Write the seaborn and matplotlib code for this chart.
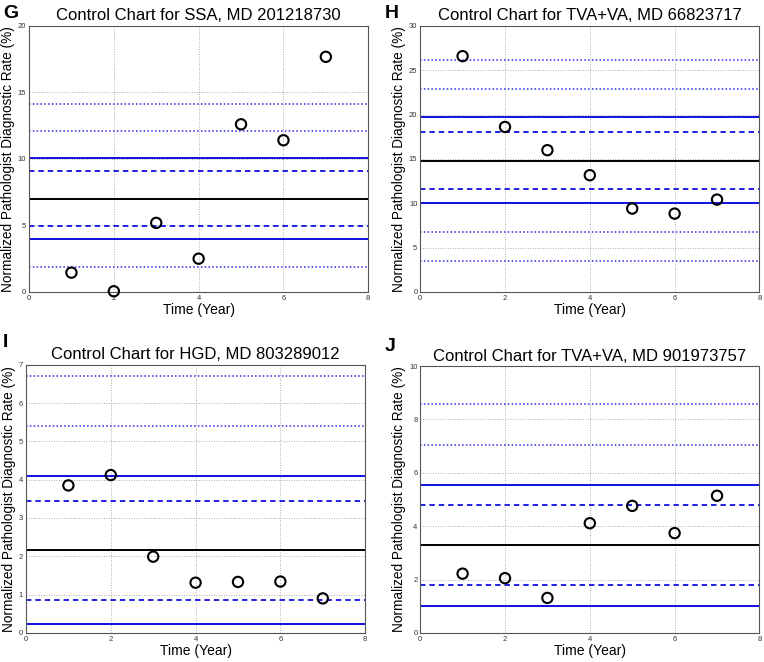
import numpy as np
import pandas as pd
import matplotlib
matplotlib.use("Agg")
import matplotlib.pyplot as plt
import seaborn as sns

sns.set_style("white")
plt.rcParams['font.family'] = ['Liberation Sans', 'DejaVu Sans']
plt.rcParams['text.color'] = 'black'
plt.rcParams['axes.labelcolor'] = 'black'

# data
years = [1, 2, 3, 4, 5, 6, 7]

g_rate = [1.45, 0.05, 5.19, 2.5, 12.6, 11.4, 17.67]
g_center = 7.0
g_solid = [10.07, 3.96]
g_dashed = [9.07, 4.96]
g_dotted = [14.16, 12.1, 1.88]

h_rate = [26.58, 18.6, 15.98, 13.16, 9.4, 8.83, 10.41]
h_center = 14.81
h_solid = [19.7, 10.0]
h_dashed = [18.08, 11.58]
h_dotted = [26.13, 22.9, 6.73, 3.5]

i_rate = [3.85, 4.12, 1.99, 1.31, 1.33, 1.34, 0.9]
i_center = 2.16
i_solid = [4.10, 0.22]
i_dashed = [3.45, 0.87]
i_dotted = [6.70, 5.40]

j_rate = [2.22, 2.05, 1.31, 4.11, 4.76, 3.74, 5.14]
j_center = 3.3
j_solid = [5.55, 1.02]
j_dashed = [4.8, 1.79]
j_dotted = [8.59, 7.06]

panels = [
    ("G", "Control Chart for SSA, MD 201218730", g_rate, g_center, g_solid, g_dashed, g_dotted, 20, 5),
    ("H", "Control Chart for TVA+VA, MD 66823717", h_rate, h_center, h_solid, h_dashed, h_dotted, 30, 5),
    ("I", "Control Chart for HGD, MD 803289012", i_rate, i_center, i_solid, i_dashed, i_dotted, 7, 1),
    ("J", "Control Chart for TVA+VA, MD 901973757", j_rate, j_center, j_solid, j_dashed, j_dotted, 10, 2),
]

# axes boxes in figure fractions, letter positions in figure fractions
boxes = [
    [0.038, 0.559, 0.444, 0.402],
    [0.550, 0.559, 0.444, 0.402],
    [0.034, 0.044, 0.444, 0.405],
    [0.550, 0.044, 0.444, 0.403],
]
letter_pos = [(0.004, 0.993), (0.504, 0.993), (0.004, 0.495), (0.503, 0.490)]

fig = plt.figure(figsize=(7.64, 6.62), dpi=100)

for (letter, title, rate, center, solid, dashed, dotted, ymax, ystep), box, lp in zip(panels, boxes, letter_pos):
    ax = fig.add_axes(box)
    df = pd.DataFrame({"year": years, "rate": rate})

    ax.grid(True, color="#777777", linestyle=(0, (1, 2)), linewidth=0.6, alpha=0.8)
    ax.set_axisbelow(True)

    ax.axhline(center, color="black", linewidth=1.4)
    for v in solid:
        ax.axhline(v, color="#1010e0", linewidth=1.4)
    for v in dashed:
        ax.axhline(v, color="#1010e0", linewidth=1.3, linestyle=(0, (3, 2.2)))
    for v in dotted:
        ax.axhline(v, color="#2a2af0", linewidth=1.1, linestyle=(0, (1, 1.5)))

    sns.scatterplot(data=df, x="year", y="rate", ax=ax, s=55, marker="o",
                    facecolor="none", edgecolor="black", linewidth=1.5, zorder=5, clip_on=False)

    ax.set_xlim(0, 8)
    ax.set_ylim(0, ymax)
    ax.set_xticks([0, 2, 4, 6, 8])
    ax.set_yticks(np.arange(0, ymax + 0.001, ystep))
    ax.tick_params(direction="in", length=3, labelsize=5.5, pad=2, color="#444444", labelcolor="#333333")
    for sp in ax.spines.values():
        sp.set_color("#555555")
        sp.set_linewidth(0.8)

    ax.set_title(title, fontsize=12, pad=4)
    ax.set_xlabel("Time (Year)", fontsize=10, labelpad=1)
    ax.set_ylabel("Normalized Pathologist Diagnostic Rate (%)", fontsize=9.8, labelpad=2)
    fig.text(lp[0], lp[1], letter, fontsize=14, fontweight="bold", va="top", ha="left")

fig.savefig("out.png", dpi=100)
